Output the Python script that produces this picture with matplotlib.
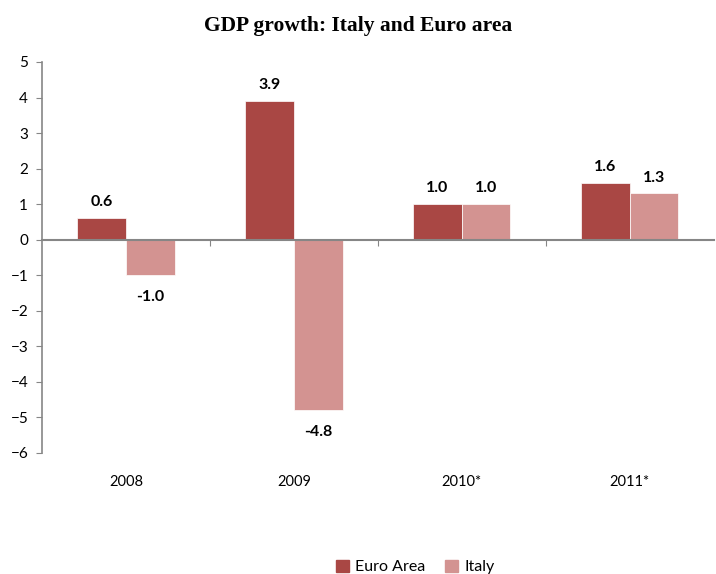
import matplotlib

matplotlib.use("Agg")
import matplotlib.pyplot as plt
import numpy as np
from matplotlib.patches import Patch
from matplotlib.transforms import blended_transform_factory

years = ["2008", "2009", "2010*", "2011*"]
euro_area = [0.6, 3.9, 1.0, 1.6]
italy = [-1.0, -4.8, 1.0, 1.3]

EURO = "#A94744"
ITALY = "#D39391"
AXIS = "#868686"
LABEL_FONT = ["Lato", "DejaVu Sans"]

fig = plt.figure(figsize=(7.16, 5.74), dpi=100)
ax = fig.add_axes([0.0587, 0.211, 0.938, 0.681])

x = np.arange(len(years))
w = 0.29
b1 = ax.bar(x - w / 2, euro_area, width=w, color=EURO, edgecolor="white", linewidth=0.5)
b2 = ax.bar(x + w / 2, italy, width=w, color=ITALY, edgecolor="white", linewidth=0.5)

for bars in (b1, b2):
    for bar in bars:
        v = bar.get_height()
        off = 11.5 if v >= 0 else -16
        ax.annotate(f"{v:.1f}", (bar.get_x() + bar.get_width() / 2, v),
                    xytext=(0, off), textcoords="offset points", ha="center", va="center",
                    fontsize=11.5, fontweight="bold", family=LABEL_FONT)

ax.set_xlim(-0.5, len(years) - 0.5)
ax.set_ylim(-6, 5)
ax.set_yticks(range(-6, 6))
ax.tick_params(axis="y", length=4, color=AXIS, labelsize=11, pad=6)
for t in ax.get_yticklabels():
    t.set_family(LABEL_FONT)

ax.spines["top"].set_visible(False)
ax.spines["right"].set_visible(False)
ax.spines["left"].set_color(AXIS)
ax.spines["left"].set_linewidth(1.2)
ax.spines["bottom"].set_position(("data", 0))
ax.spines["bottom"].set_color(AXIS)
ax.spines["bottom"].set_linewidth(1.5)
ax.set_xticks(np.arange(0.5, len(years) - 0.5))
ax.tick_params(axis="x", length=4, color=AXIS, labelbottom=False)

trans = blended_transform_factory(ax.transData, ax.transAxes)
for i, y in enumerate(years):
    ax.annotate(y, (i, 0), xycoords=trans, xytext=(0, -21), textcoords="offset points",
                ha="center", va="center", fontsize=10.5, family=LABEL_FONT)

fig.text(0.5, 0.955, "GDP growth: Italy and Euro area", ha="center", va="center",
         fontsize=15.5, fontweight="bold", family="Liberation Serif")

handles = [Patch(color=EURO, label="Euro Area"), Patch(color=ITALY, label="Italy")]
fig.legend(handles=handles, loc="center", bbox_to_anchor=(0.58, 0.012), ncol=2, frameon=False,
           prop={"family": LABEL_FONT, "size": 11.5}, handlelength=0.8, handleheight=0.8,
           handletextpad=0.4, columnspacing=1.2)

fig.savefig("out.png")
